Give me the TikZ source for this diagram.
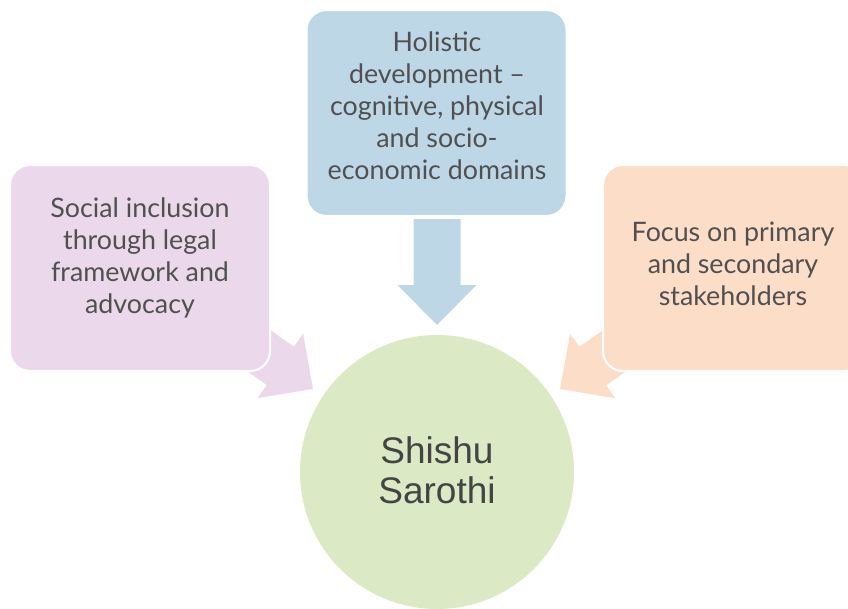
\documentclass[tikz,border=0pt]{standalone}
\usepackage{fontspec}
\setmainfont{Lato}
\newfontfamily\circfont{Liberation Sans}
\usetikzlibrary{calc}
\definecolor{blueF}{HTML}{BDD7E7}
\definecolor{pinkF}{HTML}{EBD9EB}
\definecolor{peachF}{HTML}{FCDDC8}
\definecolor{greenF}{HTML}{DCE9C5}
\definecolor{txt}{HTML}{505050}
\newcommand\blockarrow[3]{%
  \path (#1) coordinate (ba-s) (#2) coordinate (ba-t) ($(ba-t)!40pt!(ba-s)$) coordinate (ba-h);
  \fill[#3] ($(ba-s)!23.5pt!90:(ba-t)$) -- ($(ba-h)!23.5pt!90:(ba-t)$) -- ($(ba-h)!39.5pt!90:(ba-t)$)
    -- (ba-t) -- ($(ba-h)!39.5pt!-90:(ba-t)$) -- ($(ba-h)!23.5pt!-90:(ba-t)$) -- ($(ba-s)!23.5pt!-90:(ba-t)$) -- cycle;
}
\tikzset{
  box/.style={rectangle, rounded corners=20pt, minimum width=260pt, minimum height=206pt, draw=white, line width=2pt, inner sep=0pt},
  boxtext/.style={text=txt, align=center, font=\fontsize{26.8}{32}\selectfont, inner sep=0pt},
}
\begin{document}
\begin{tikzpicture}[x=1pt, y=-1pt]
\useasboundingbox (0,0) rectangle (848,608);
% arrows
\coordinate (ts) at (437,219);
\coordinate (tt) at (437,325);
\coordinate (ls) at (207,314);
\coordinate (lt) at (313,389);
\coordinate (rs) at (667,314);
\coordinate (rt) at (560,389);
\blockarrow{ts}{tt}{blueF}
\blockarrow{ls}{lt}{pinkF}
\blockarrow{rs}{rt}{peachF}
% boxes
\node[box, fill=blueF] (top) at (436.5,113) {};
\node[boxtext] (toptext) at (437,106) {Holistic\\development --\\cognitive, physical\\and socio-\\economic domains};
\node[box, fill=pinkF] (left) at (140,268) {};
\node[boxtext] (lefttext) at (140,258) {Social inclusion\\through legal\\framework and\\advocacy};
\node[box, fill=peachF] (right) at (733,268) {};
\node[boxtext] (righttext) at (733,264) {Focus on primary\\and secondary\\stakeholders};
% circle
\node[circle, fill=greenF, minimum size=274pt, inner sep=0pt] (c) at (437,472) {};
\node[text=txt!85!black, align=center, font=\circfont\fontsize{37}{40}\selectfont, inner sep=0pt] (ctext) at (437,470) {Shishu\\Sarothi};
\end{tikzpicture}
\end{document}
